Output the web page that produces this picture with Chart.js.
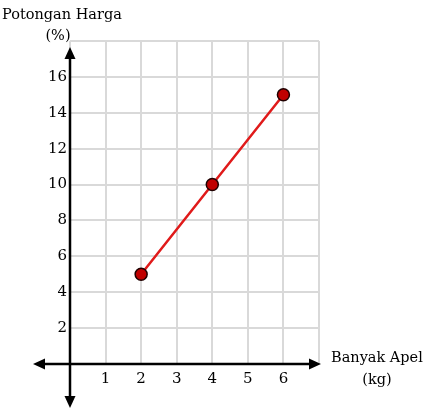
<!DOCTYPE html>
<html>
<head>
<meta charset="utf-8">
<script src="https://cdn.jsdelivr.net/npm/chart.js@4/dist/chart.umd.min.js"></script>
<style>
  html, body { margin: 0; padding: 0; background: #fff; }
  #wrap { width: 429px; height: 411px; }
</style>
</head>
<body>
<div id="wrap"><canvas id="lineChart" width="429" height="411"></canvas></div>
<script>
  // data
  const apelKg = [2, 4, 6];
  const potonganPersen = [5, 10, 15];
  const xTickLabels = [1, 2, 3, 4, 5, 6];
  const yTickLabels = [2, 4, 6, 8, 10, 12, 14, 16];

  const FONT = '"DejaVu Serif", "Liberation Serif", serif';

  // axes with arrows + the odd-placed titles
  const axisArrows = {
    id: 'axisArrows',
    afterDatasetsDraw(chart) {
      const c = chart.ctx;
      const xs = chart.scales.x, ys = chart.scales.y;
      const x0 = xs.getPixelForValue(0);
      const y0 = ys.getPixelForValue(0);
      c.save();
      c.strokeStyle = '#000';
      c.fillStyle = '#000';
      c.lineWidth = 2.5;

      function arrow(tx, ty, dx, dy) {
        const len = 12, half = 5.5;
        const bx = tx - dx * len, by = ty - dy * len;
        c.beginPath();
        c.moveTo(tx, ty);
        c.lineTo(bx - dy * half, by + dx * half);
        c.lineTo(bx + dy * half, by - dx * half);
        c.closePath();
        c.fill();
      }

      // horizontal axis
      const left = 33, right = 321;
      c.beginPath();
      c.moveTo(left + 8, y0);
      c.lineTo(right - 8, y0);
      c.stroke();
      arrow(left, y0, -1, 0);
      arrow(right, y0, 1, 0);

      // vertical axis
      const top = 47, bottom = 408;
      c.beginPath();
      c.moveTo(x0, top + 8);
      c.lineTo(x0, bottom - 8);
      c.stroke();
      arrow(x0, top, 0, -1);
      arrow(x0, bottom, 0, 1);

      // titles
      c.font = '14.5px ' + FONT;
      c.textBaseline = 'middle';
      c.textAlign = 'left';
      c.fillText('Potongan Harga', 2, 15);
      c.textAlign = 'center';
      c.fillText('(%)', 58, 36);
      c.textAlign = 'left';
      c.fillText('Banyak Apel', 331, 358);
      c.textAlign = 'center';
      c.fillText('(kg)', 377, 380);
      c.restore();
    }
  };

  const ctx = document.getElementById('lineChart').getContext('2d');
  const lineChart = new Chart(ctx, {
    type: 'scatter',
    data: {
      datasets: [{
        data: apelKg.map((x, i) => ({ x: x, y: potonganPersen[i] })),
        showLine: true,
        borderColor: '#e01a1a',
        borderWidth: 2.5,
        pointRadius: 6,
        pointHoverRadius: 6,
        pointBackgroundColor: '#c00000',
        pointBorderColor: '#200000',
        pointBorderWidth: 1.5
      }]
    },
    options: {
      responsive: false,
      animation: false,
      layout: { padding: { top: 41, right: 110, left: 0, bottom: 0 } },
      plugins: { legend: { display: false }, tooltip: { enabled: false } },
      scales: {
        x: {
          type: 'linear',
          min: 0,
          max: 7,
          afterFit: (scale) => { scale.height = 47; },
          afterBuildTicks: (scale) => {
            scale.ticks = [0, ...xTickLabels, 7].map(v => ({ value: v }));
          },
          border: { display: false },
          grid: { color: '#d9d9d9', lineWidth: 2, drawTicks: false },
          ticks: {
            padding: 6,
            color: '#000',
            font: { family: FONT, size: 15 },
            callback: (v) => xTickLabels.includes(v) ? String(v) : ''
          }
        },
        y: {
          type: 'linear',
          min: 0,
          max: 18,
          afterFit: (scale) => { scale.width = 70; },
          afterBuildTicks: (scale) => {
            scale.ticks = [0, ...yTickLabels, 18].map(v => ({ value: v }));
          },
          border: { display: false },
          grid: { color: '#d9d9d9', lineWidth: 2, drawTicks: false },
          ticks: {
            padding: 3,
            color: '#000',
            font: { family: FONT, size: 15 },
            callback: (v) => yTickLabels.includes(v) ? String(v) : ''
          }
        }
      }
    },
    plugins: [axisArrows]
  });
</script>
</body>
</html>
